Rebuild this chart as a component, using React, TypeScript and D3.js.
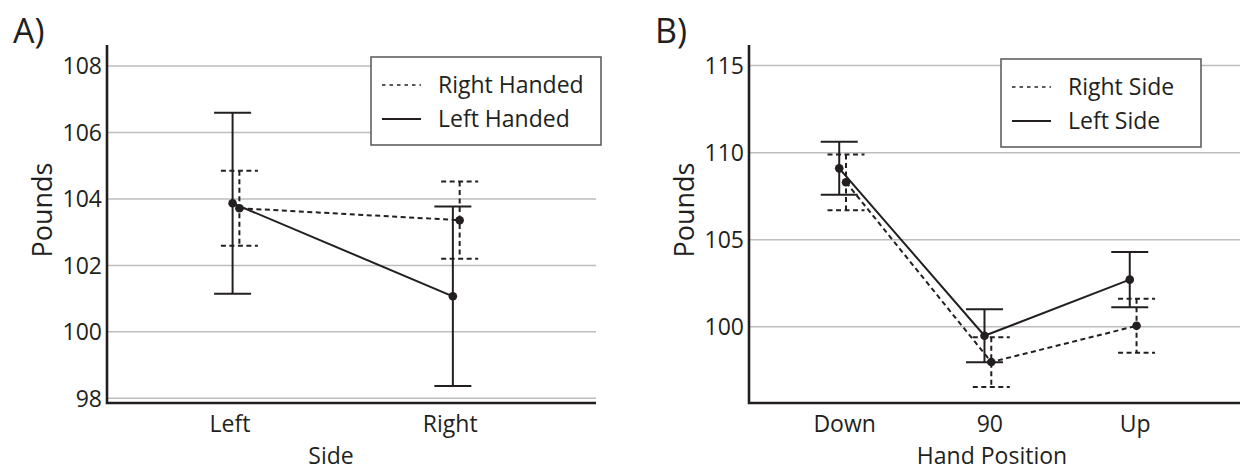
import React from "react";
import * as d3 from "d3";

// Panel A: grip strength by side, split by handedness
const sideCategories = ["Left", "Right"];
const rightHandedMean = [103.72, 103.36];
const rightHandedErr = [1.13, 1.16];
const leftHandedMean = [103.87, 101.07];
const leftHandedErr = [2.72, 2.7];
const ticksA = [98, 100, 102, 104, 106, 108];

// Panel B: grip strength by hand position, split by side
const handPositions = ["Down", "90", "Up"];
const rightSideMean = [108.3, 97.98, 100.06];
const rightSideErr = [1.6, 1.43, 1.55];
const leftSideMean = [109.1, 99.49, 102.71];
const leftSideErr = [1.52, 1.52, 1.59];
const ticksB = [100, 105, 110, 115];

const INK = "#231f20";
const GRID = "#bdbdbd";
const FONT = "'Open Sans', sans-serif";
const DODGE = 3.4;
const CAP = 18.5;

interface Series {
  name: string;
  mean: number[];
  err: number[];
  dashed: boolean;
}

interface PanelProps {
  label: string;
  xTitle: string;
  xTitleX: number;
  categories: string[];
  labelShift: number;
  series: Series[];
  ticks: number[];
  yDomain: [number, number];
  left: number;
  right: number;
  padding: number;
  align: number;
  legend: { x: number; y: number; w: number };
}

const TOP = 45;
const BOTTOM = 403;

function Panel(p: PanelProps) {
  const x = d3
    .scalePoint<string>()
    .domain(p.categories)
    .range([p.left, p.right])
    .padding(p.padding)
    .align(p.align);
  const y = d3.scaleLinear().domain(p.yDomain).range([BOTTOM, TOP]);
  const offset = (s: Series) => (s.dashed ? DODGE : -DODGE);
  const line = d3
    .line<[number, number]>()
    .x((d) => d[0])
    .y((d) => d[1]);

  return (
    <g>
      <text x={p.left - 94} y={43} fontSize={34} fontFamily={FONT} fill={INK}>
        {p.label}
      </text>
      {p.ticks.map((t) => (
        <g key={t}>
          <line x1={p.left} x2={p.right} y1={y(t)} y2={y(t)} stroke={GRID} strokeWidth={1.5} />
          <text
            x={p.left - 5}
            y={y(t)}
            dy="0.36em"
            textAnchor="end"
            fontSize={23}
            fontFamily={FONT}
            fill={INK}
          >
            {t}
          </text>
        </g>
      ))}
      <path
        d={`M${p.left},${TOP}V${BOTTOM}H${p.right}`}
        fill="none"
        stroke={INK}
        strokeWidth={2.6}
      />
      {p.categories.map((c) => (
        <text
          key={c}
          x={(x(c) as number) + p.labelShift}
          y={432}
          textAnchor="middle"
          fontSize={23}
          fontFamily={FONT}
          fill={INK}
        >
          {c}
        </text>
      ))}
      <text x={p.xTitleX} y={464} textAnchor="middle" fontSize={23} fontFamily={FONT} fill={INK}>
        {p.xTitle}
      </text>
      <text
        transform={`translate(${p.left - 55},${210}) rotate(-90)`}
        textAnchor="middle"
        fontSize={27}
        fontFamily={FONT}
        fill={INK}
      >
        Pounds
      </text>
      {p.series.map((s) => {
        const dash = s.dashed ? "5,3.5" : undefined;
        const pts: [number, number][] = p.categories.map((c, i) => [
          (x(c) as number) + offset(s),
          y(s.mean[i]),
        ]);
        return (
          <g key={s.name}>
            <path d={line(pts) || ""} fill="none" stroke={INK} strokeWidth={2} strokeDasharray={dash} />
            {p.categories.map((c, i) => {
              const cx = (x(c) as number) + offset(s);
              const hi = y(s.mean[i] + s.err[i]);
              const lo = y(s.mean[i] - s.err[i]);
              return (
                <g key={c}>
                  <line x1={cx} x2={cx} y1={hi} y2={lo} stroke={INK} strokeWidth={2} strokeDasharray={dash} />
                  <line x1={cx - CAP} x2={cx + CAP} y1={hi} y2={hi} stroke={INK} strokeWidth={2} strokeDasharray={dash} />
                  <line x1={cx - CAP} x2={cx + CAP} y1={lo} y2={lo} stroke={INK} strokeWidth={2} strokeDasharray={dash} />
                  <circle cx={cx} cy={y(s.mean[i])} r={4.3} fill={INK} />
                </g>
              );
            })}
          </g>
        );
      })}
      <g transform={`translate(${p.legend.x},${p.legend.y})`}>
        <rect x={0} y={0} width={p.legend.w} height={88} fill="#fff" stroke="#555" strokeWidth={1.5} />
        {p.series.map((s, i) => (
          <g key={s.name} transform={`translate(0,${28 + i * 34})`}>
            <line
              x1={11}
              x2={50}
              y1={0}
              y2={0}
              stroke={INK}
              strokeWidth={s.dashed ? 1.6 : 2.2}
              strokeDasharray={s.dashed ? "3.5,4" : undefined}
            />
            <text x={67} y={0} dy="0.36em" fontSize={23} fontFamily={FONT} fill={INK}>
              {s.name}
            </text>
          </g>
        ))}
      </g>
    </g>
  );
}

export default function App() {
  const seriesA: Series[] = [
    { name: "Right Handed", mean: rightHandedMean, err: rightHandedErr, dashed: true },
    { name: "Left Handed", mean: leftHandedMean, err: leftHandedErr, dashed: false },
  ];
  const seriesB: Series[] = [
    { name: "Right Side", mean: rightSideMean, err: rightSideErr, dashed: true },
    { name: "Left Side", mean: leftSideMean, err: leftSideErr, dashed: false },
  ];
  return (
    <svg
      width={1243}
      height={470}
      style={{ position: "absolute", left: 0, top: 0, background: "#fff" }}
    >
      <Panel
        label="A)"
        xTitle="Side"
        xTitleX={331}
        categories={sideCategories}
        labelShift={-6}
        series={seriesA}
        ticks={ticksA}
        yDomain={[97.86, 108.63]}
        left={107}
        right={596}
        padding={0.61}
        align={0.48}
        legend={{ x: 371, y: 57, w: 230 }}
      />
      <Panel
        label="B)"
        xTitle="Hand Position"
        xTitleX={992}
        categories={handPositions}
        labelShift={2}
        series={seriesB}
        ticks={ticksB}
        yDomain={[95.63, 116.18]}
        left={749}
        right={1240}
        padding={0.69}
        align={0.467}
        legend={{ x: 1001, y: 59, w: 200 }}
      />
    </svg>
  );
}
